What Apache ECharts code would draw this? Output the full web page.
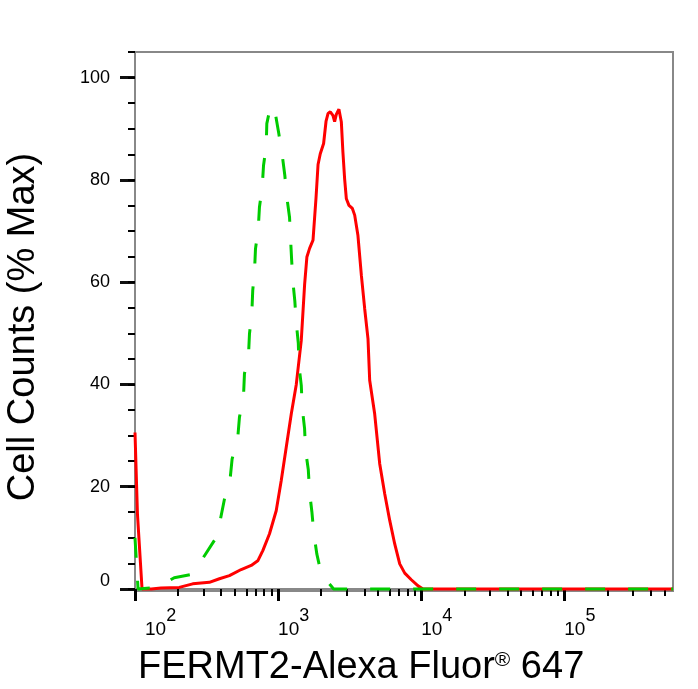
<!DOCTYPE html>
<html>
<head>
<meta charset="utf-8">
<script src="https://cdn.jsdelivr.net/npm/echarts@6/dist/echarts.min.js"></script>
<style>
  html, body { margin: 0; padding: 0; background: #fff; }
  #main { width: 698px; height: 689px; }
</style>
</head>
<body>
<div id="main"></div>
<script>
// fluorescence intensity (linear units) and % of max
var redFl = [100, 104, 112, 130, 152, 204, 253, 331, 389, 457, 552, 649, 721, 782, 871, 970,
  1052, 1140, 1236, 1340, 1452, 1532, 1589, 1660, 1754, 1841, 1902, 1971, 2080, 2164, 2235,
  2315, 2416, 2483, 2552, 2661, 2767, 2838, 2917, 2999, 3127, 3304, 3429, 3614, 3819, 4028,
  4249, 4365, 4732, 5129, 5559, 6026, 6531, 7079, 7674, 8531, 9506, 10304, 575000];
var redPct = [30.6, 14.7, 0, 0, 0.2, 0.3, 1.0, 1.3, 2.0, 2.6, 3.8, 4.6, 5.5, 7.5, 10.8, 15.3,
  21.2, 27.7, 34.2, 40.0, 48.6, 59.5, 64.9, 66.6, 68.2, 76.5, 83.0, 85.1, 87.1, 91.5, 93.0,
  93.3, 92.6, 91.4, 92.8, 93.8, 91.3, 85.4, 80.2, 76.3, 75.0, 74.4, 73.1, 69.1, 61.3, 54.8,
  48.9, 40.8, 34.2, 24.5, 18.6, 13.4, 8.8, 4.9, 3.1, 1.8, 0.6, 0, 0];

var ctrlFl = [100, 105, 144, 188, 253, 301, 359, 394, 422, 462, 477, 522, 537, 573, 582, 621,
  631, 655, 665, 684, 695, 726, 741, 774, 791, 826, 834, 871, 910, 959, 1012, 1069, 1114,
  1151, 1202, 1222, 1242, 1268, 1309, 1340, 1384, 1400, 1452, 1476, 1531, 1556, 1626, 1660,
  1722, 1778, 1866, 2004, 2443, 575000];
var ctrlPct = [10, 0, 0.3, 2.2, 2.9, 6.2, 9.5, 13.4, 17.6, 21.5, 25.4, 29.4, 33.6, 37.6, 42.1, 45.7,
  49.9, 53.8, 58.4, 62.0, 66.5, 70.3, 74.7, 78.5, 82.8, 86.6, 91.0, 93.5, 94.6, 92.8, 89.0, 84.8, 80.9,
  76.6, 72.7, 68.5, 64.6, 60.2, 56.3, 52.0, 48.1, 43.7, 39.8, 35.3, 31.4, 27.1, 23.3, 18.9,
  15.1, 10.8, 6.8, 2.9, 0, 0];

var xMinFl = 100, xMaxFl = 575000;
var xMajorExp = [2, 3, 4, 5];
var yMajor = [0, 20, 40, 60, 80, 100];
var yMinor = [0, 5, 10, 15, 20, 25, 30, 35, 40, 45, 50, 55, 60, 65, 70, 75, 80, 85, 90, 95, 100, 105];

var xMinor = [];
xMajorExp.forEach(function (e) {
    for (var k = 2; k <= 9; k++) {
        var v = Math.log10(k) + e;
        if (v <= Math.log10(xMaxFl)) xMinor.push(v);
    }
});

function toPairs(fl, pct) {
    return fl.map(function (f, i) { return [Math.log10(f), pct[i]]; });
}

var font = '"Liberation Sans", Arial, sans-serif';
var xMin = Math.log10(xMinFl), xMax = Math.log10(xMaxFl);

var myChart = echarts.init(document.getElementById('main'));
myChart.setOption({
    animation: false,
    backgroundColor: '#fff',
    textStyle: { fontFamily: font },
    grid: {
        left: 135, right: 25, top: 52, bottom: 98,
        show: true, borderColor: '#888', borderWidth: 2
    },
    xAxis: [{
        type: 'value', min: xMin, max: xMax,
        splitLine: { show: false },
        axisLine: { show: true, lineStyle: { color: '#888', width: 2 } },
        axisTick: { show: true, customValues: xMajorExp, length: 12, lineStyle: { color: '#000', width: 3 } },
        axisLabel: {
            customValues: xMajorExp, align: 'left', margin: 14, color: '#000', fontFamily: font,
            formatter: function (v) {
                var e = Math.round(v);
                return (e === 2 ? '{b0|10}' : '{b|10}') + '{s|' + e + '}';
            },
            rich: {
                b: { fontSize: 19, lineHeight: 34, verticalAlign: 'bottom', fontFamily: font, color: '#000' },
                b0: { fontSize: 19, lineHeight: 34, verticalAlign: 'bottom', padding: [0, 0, 0, 10], fontFamily: font, color: '#000' },
                s: { fontSize: 18, lineHeight: 34, verticalAlign: 'top', padding: [2, 0, 0, 0], fontFamily: font, color: '#000' }
            }
        }
    }, {
        type: 'value', min: xMin, max: xMax, position: 'bottom',
        splitLine: { show: false },
        axisLine: { show: false },
        axisTick: { show: true, customValues: xMinor, length: 7, lineStyle: { color: '#000', width: 2 } },
        axisLabel: { show: false }
    }],
    yAxis: [{
        type: 'value', min: -0.4, max: 105,
        splitLine: { show: false },
        axisLine: { show: true, lineStyle: { color: '#888', width: 2 } },
        axisTick: { show: true, customValues: yMajor, length: 15, lineStyle: { color: '#111', width: 3 } },
        axisLabel: {
            customValues: yMajor, margin: 25, fontSize: 18, color: '#000', fontFamily: font,
            formatter: function (v) { return v === 0 ? '{z|0}' : String(v); },
            rich: { z: { fontSize: 18, padding: [0, 0, 16, 0], fontFamily: font, color: '#000' } }
        }
    }, {
        type: 'value', min: -0.4, max: 105, position: 'left',
        splitLine: { show: false },
        axisLine: { show: false },
        axisTick: { show: true, customValues: yMinor, length: 7, lineStyle: { color: '#000', width: 2 } },
        axisLabel: { show: false }
    }],
    graphic: [{
        type: 'text', x: 138, y: 668,
        style: {
            text: 'FERMT2-Alexa Fluor{r|®} 647',
            font: '38px ' + font, fill: '#000',
            verticalAlign: 'middle',
            rich: { r: { fontSize: 21, lineHeight: 21, verticalAlign: 'top', fill: '#000', padding: [1, 0, 0, 0] } }
        }
    }, {
        type: 'text', x: 24, y: 327, rotation: Math.PI / 2,
        style: {
            text: 'Cell Counts (% Max)',
            font: '38px ' + font, fill: '#000',
            align: 'center', verticalAlign: 'middle'
        }
    }],
    series: [{
        name: 'FERMT2', type: 'line', xAxisIndex: 0, yAxisIndex: 0,
        symbol: 'none', smooth: false,
        data: toPairs(redFl, redPct),
        lineStyle: { color: '#ff0000', width: 3 }
    }, {
        name: 'Isotype', type: 'line', xAxisIndex: 0, yAxisIndex: 0,
        symbol: 'none', smooth: false,
        data: toPairs(ctrlFl, ctrlPct),
        lineStyle: { color: '#00cc00', width: 3, type: [20, 23], cap: 'butt' }
    }]
});
</script>
</body>
</html>
